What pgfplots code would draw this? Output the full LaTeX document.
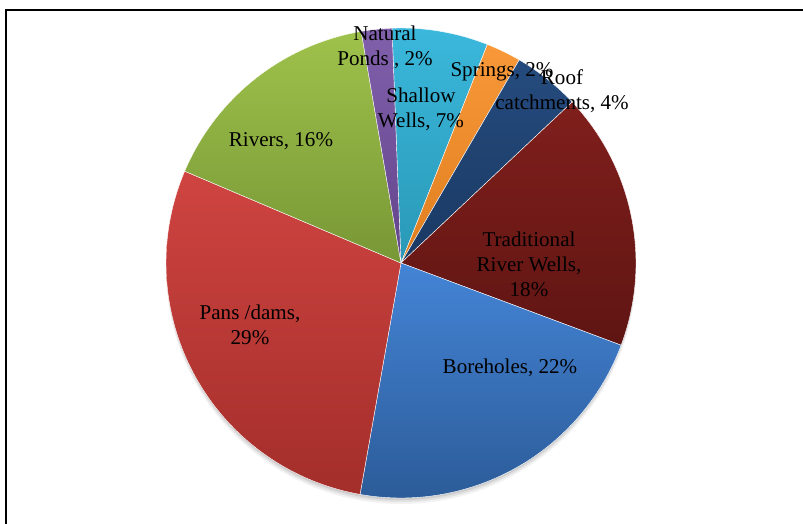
\documentclass[border=0pt]{standalone}
\usepackage{fontspec}
\setmainfont{Liberation Serif}
\usepackage{pgfplots}
\usepgfplotslibrary{polar}
\pgfplotsset{compat=1.18}
\definecolor{swT}{HTML}{3AB8DC}\definecolor{swB}{HTML}{2A98B6}
\definecolor{spT}{HTML}{F89838}\definecolor{spB}{HTML}{E07E1E}
\definecolor{rcT}{HTML}{254B7E}\definecolor{rcB}{HTML}{1A3963}
\definecolor{trT}{HTML}{801F1C}\definecolor{trB}{HTML}{5F1513}
\definecolor{boT}{HTML}{4484D6}\definecolor{boB}{HTML}{2C5C99}
\definecolor{paT}{HTML}{CF4441}\definecolor{paB}{HTML}{A32E2A}
\definecolor{riT}{HTML}{9EC24B}\definecolor{riB}{HTML}{789736}
\definecolor{npT}{HTML}{8060AA}\definecolor{npB}{HTML}{62448C}
% start angle (polar degrees) of the first slice; slices run clockwise
\def\startang{92.2}
\def\cum{0}
\newcommand{\slice}[3]{%
  \pgfmathsetmacro{\angB}{\startang-3.6*\cum}%
  \pgfmathsetmacro{\angA}{\startang-3.6*(\cum+#1)}%
  \pgfmathsetmacro{\newcum}{\cum+#1}\global\let\cum\newcum
  \edef\doslice{\noexpand\addplot[draw=white, line width=0.3pt, top color=#2, bottom color=#3, domain=\angA:\angB, samples=80, no markers]}%
  \doslice {1} -- (0,0) -- cycle;
}
\begin{document}
\begin{tikzpicture}
\path[use as bounding box] (0,0) rectangle (602.25pt,393pt);
% soft shadow under the pie
\begin{scope}[x=0.75pt,y=-0.75pt,yshift=393pt]
\fill[black, opacity=0.05] (401,269) circle (235);
\fill[black, opacity=0.07] (401,267.5) circle (234.5);
\fill[black, opacity=0.09] (401,266) circle (234);
\end{scope}
\begin{polaraxis}[
  at={(300.75pt,195.75pt)}, anchor=center,
  scale only axis, width=352.5pt, height=352.5pt,
  ymin=0, ymax=1, hide axis, clip=false]
\slice{6.6}{swT}{swB}   % Shallow Wells
\slice{2.4}{spT}{spB}   % Springs
\slice{4.6}{rcT}{rcB}   % Roof catchments
\slice{17.7}{trT}{trB}  % Traditional River Wells
\slice{22.1}{boT}{boB}  % Boreholes
\slice{28.6}{paT}{paB}  % Pans /dams
\slice{15.9}{riT}{riB}  % Rivers
\slice{2.1}{npT}{npB}   % Natural Ponds
\end{polaraxis}
\begin{scope}[x=0.75pt,y=-0.75pt,yshift=393pt]
\draw[line width=1.5pt] (6,524) -- (6,10.5) -- (803,10.5);
\tikzset{lab/.style={align=center, inner sep=0pt, font=\fontsize{15.8}{18.75}\selectfont}}
\node[lab] at (385,47.5) {Natural\\Ponds , 2\%};
\node[lab] at (421,109.5) {Shallow\\Wells, 7\%};
\node[lab] at (502,72) {Springs, 2\%};
\node[lab] at (562,91) {Roof\\catchments, 4\%};
\node[lab] at (529,264) {Traditional\\River Wells,\\18\%};
\node[lab] at (510,368) {Boreholes, 22\%};
\node[lab] at (250,324.5) {Pans /dams,\\29\%};
\node[lab] at (281,141) {Rivers, 16\%};
\end{scope}
\end{tikzpicture}
\end{document}
